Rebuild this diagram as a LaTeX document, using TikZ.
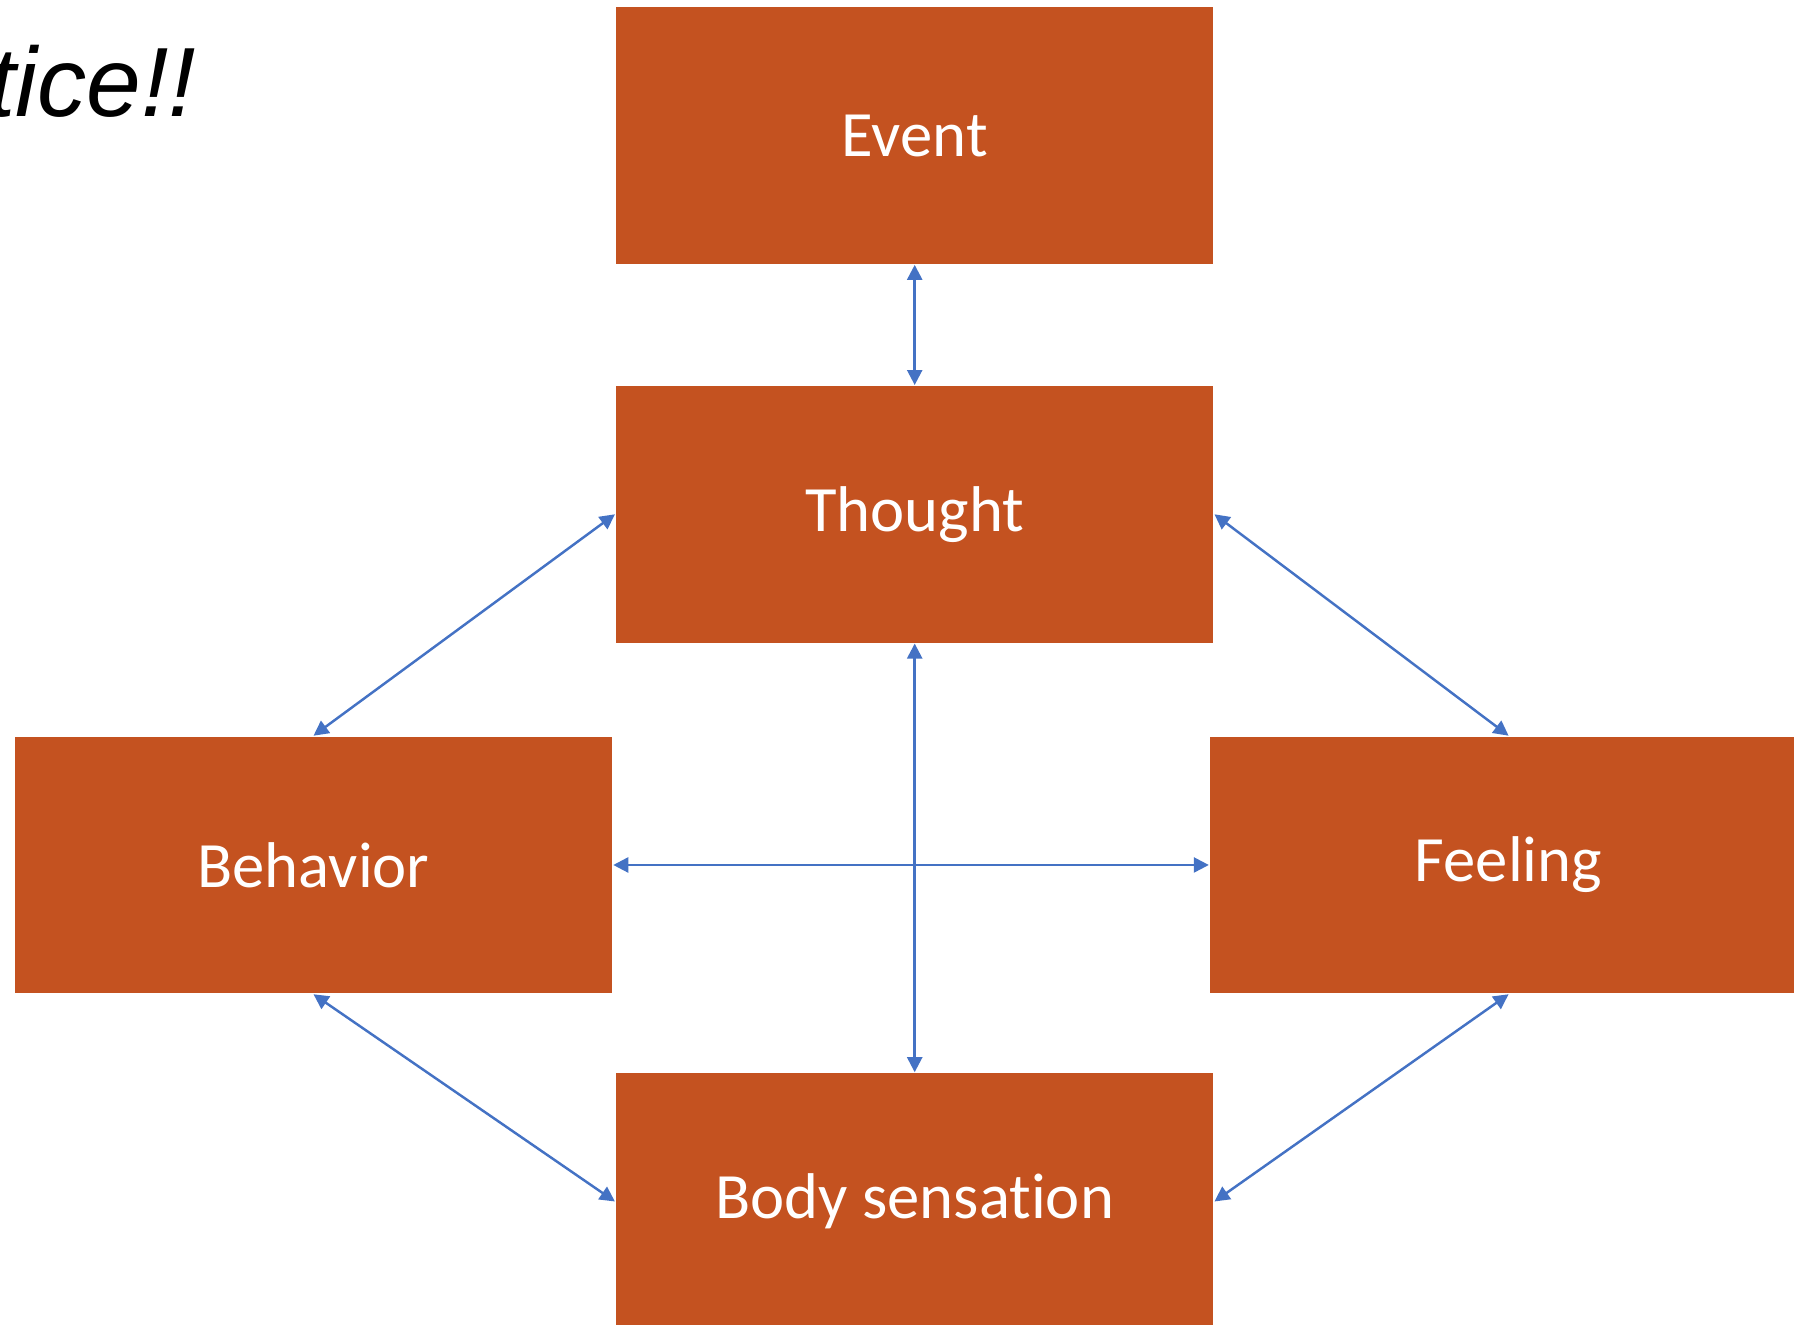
\documentclass[tikz,border=0pt]{standalone}
\usepackage{fontspec}
\setmainfont{Carlito}[Ligatures=NoCommon]
\newfontfamily\headfont{Liberation Sans}
\usetikzlibrary{arrows.meta}

\definecolor{boxorange}{RGB}{196,82,32}
\definecolor{linkblue}{RGB}{68,114,196}

\begin{document}
\begin{tikzpicture}[x=1cm, y=1cm,
    stage/.style={rectangle, fill=boxorange, draw=white, line width=0.3pt,
                  minimum width=5.985cm, minimum height=2.575cm, inner sep=0pt,
                  text=white, font=\fontsize{18.4}{22}\selectfont},
    link/.style={draw=linkblue, line width=0.7pt,
                 {Triangle[length=0.15cm, width=0.15cm]}-{Triangle[length=0.15cm, width=0.15cm]}}]
  \useasboundingbox (0,0) rectangle (17.94,13.25);

  % title, cut off at the left edge
  \node[anchor=base east, inner sep=0pt, font=\headfont\itshape\fontsize{28}{33}\selectfont]
    (title) at (1.97,12.08) {tice!!};

  % the five stages
  \node[stage] (event)    at (9.147,11.894) {Event};
  \node[stage] (thought)  at (9.147,8.107)  {Thought};
  \node[stage] (behavior) at (3.135,4.600)  {Behavior};
  \node[stage] (feeling)  at (15.086,4.600) {Feeling};
  \node[stage] (body)     at (9.147,1.235)  {Body sensation};

  % links between the stages, all two-way
  \draw[link] (event.south) -- (thought.north);
  \draw[link] (thought.west) -- (behavior.north);
  \draw[link] (thought.east) -- (feeling.north);
  \draw[link] (behavior.east) -- (feeling.west);
  \draw[link] (thought.south) -- (body.north);
  \draw[link] (behavior.south) -- (body.west);
  \draw[link] (feeling.south) -- (body.east);
\end{tikzpicture}
\end{document}
